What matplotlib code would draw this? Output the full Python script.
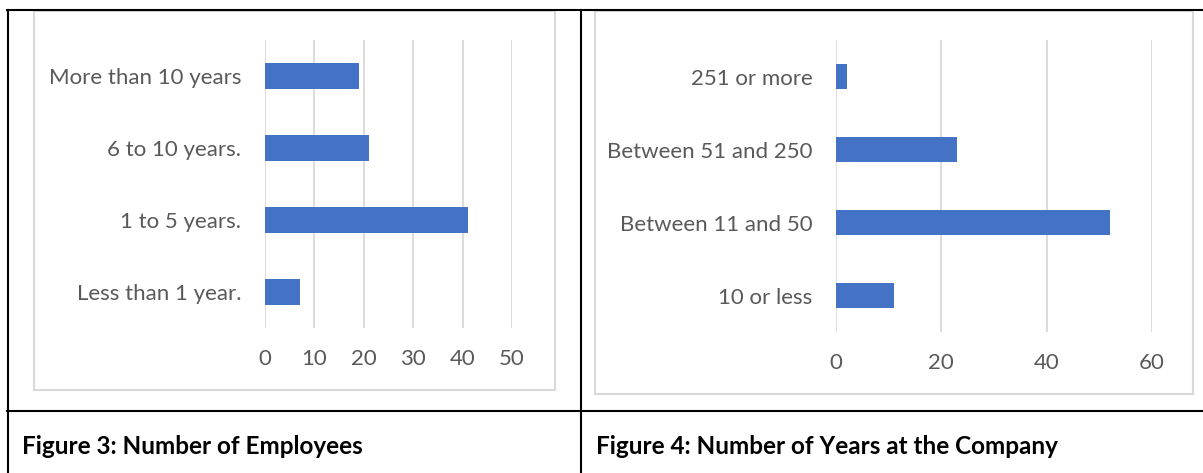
import matplotlib
matplotlib.use("Agg")
import matplotlib.pyplot as plt
from matplotlib.lines import Line2D
from matplotlib.patches import Rectangle

# data
emp_cats = ["Less than 1 year.", "1 to 5 years.", "6 to 10 years.", "More than 10 years"]
emp_vals = [7, 41, 21, 19]
emp_ticks = [0, 10, 20, 30, 40, 50]

yrs_cats = ["10 or less", "Between 11 and 50", "Between 51 and 250", "251 or more"]
yrs_vals = [11, 52, 23, 2]
yrs_ticks = [0, 20, 40, 60]

captions = ["Figure 3: Number of Employees", "Figure 4: Number of Years at the Company"]

W, H = 1203, 473
BLUE = "#4472C4"
GRID = "#d9d9d9"
TXT = "#595959"

plt.rcParams["font.family"] = ["Lato", "DejaVu Sans"]

fig = plt.figure(figsize=(W / 100, H / 100), dpi=100)


def fx(px):
    return px / W


def fy(py):
    return 1 - py / H


def box(x0, y0, x1, y1, **kw):
    # rectangle given in pixel coords (top-left origin)
    fig.add_artist(Rectangle((fx(x0), fy(y1)), fx(x1) - fx(x0), fy(y0) - fy(y1),
                             transform=fig.transFigure, fill=False, **kw))


def line(x0, y0, x1, y1, **kw):
    fig.add_artist(Line2D([fx(x0), fx(x1)], [fy(y0), fy(y1)],
                          transform=fig.transFigure, **kw))


def bar_chart(rect, cats, vals, ticks):
    x0, y0, x1, y1 = rect
    ax = fig.add_axes([fx(x0), fy(y1), fx(x1) - fx(x0), fy(y0) - fy(y1)])
    ax.barh(range(len(cats)), vals, height=0.35, color=BLUE, zorder=3)
    ax.set_ylim(-0.5, len(cats) - 0.5)
    ax.set_xlim(ticks[0], ticks[-1])
    ax.set_xticks(ticks)
    ax.set_yticks(range(len(cats)))
    ax.set_yticklabels(cats)
    ax.grid(axis="x", color=GRID, lw=1.3, zorder=0)
    ax.set_axisbelow(True)
    for s in ax.spines.values():
        s.set_visible(False)
    ax.tick_params(axis="y", length=0, pad=17, labelsize=16, labelcolor=TXT)
    ax.tick_params(axis="x", length=0, pad=15, labelsize=16, labelcolor=TXT)
    ax.patch.set_alpha(0)
    return ax


# chart frames
box(34, 11, 555, 390, edgecolor=GRID, lw=1.5)
box(595, 11, 1193, 394, edgecolor=GRID, lw=1.5)

bar_chart((265, 40, 512, 328), emp_cats, emp_vals, emp_ticks)
bar_chart((836, 40, 1152, 332), yrs_cats, yrs_vals, yrs_ticks)

# table lines
line(7, 10, 1203, 10, color="black", lw=1.5)
line(8, 10, 8, 473, color="black", lw=1.5)
line(581, 10, 581, 473, color="black", lw=1.5)
line(7, 411, 1203, 411, color="black", lw=1.5)

fig.text(fx(22), fy(446), captions[0], fontsize=17.5, fontweight="bold", va="center", ha="left")
fig.text(fx(596), fy(446), captions[1], fontsize=17.5, fontweight="bold", va="center", ha="left")

fig.savefig("out.png", dpi=100)
